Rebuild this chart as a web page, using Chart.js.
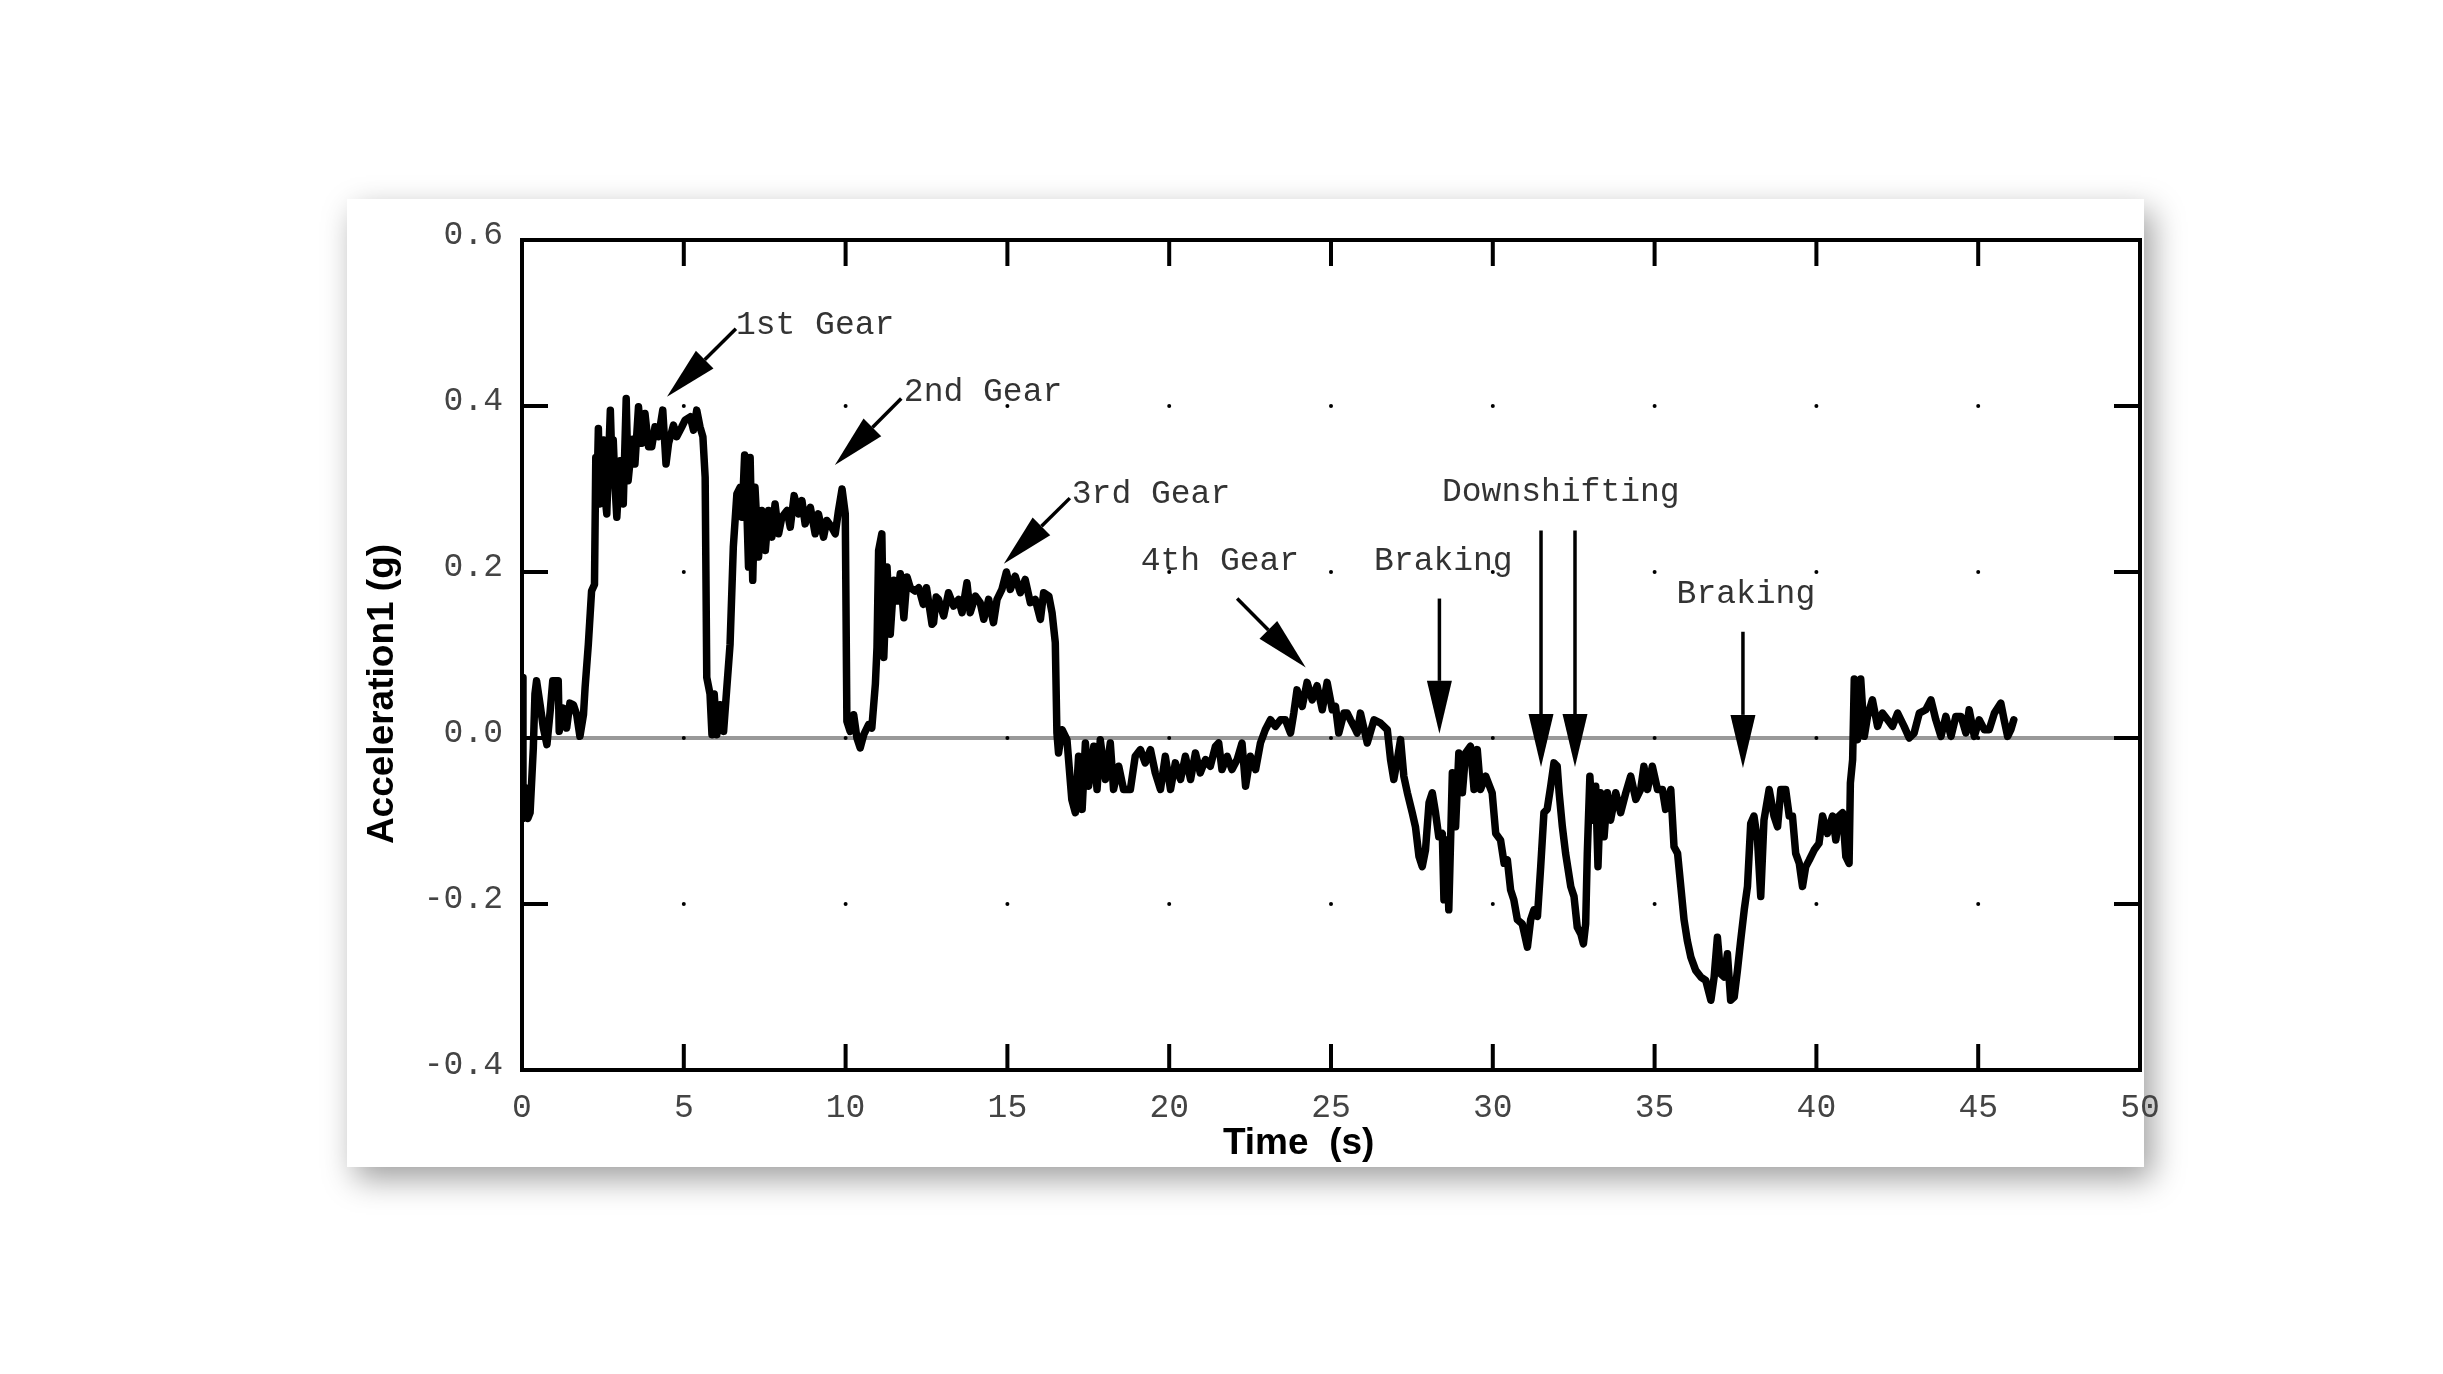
<!DOCTYPE html>
<html>
<head>
<meta charset="utf-8">
<script src="https://cdn.jsdelivr.net/npm/chart.js@4.4.1/dist/chart.umd.min.js"></script>
<style>
  html, body { margin: 0; padding: 0; background: #fff; width: 2443px; height: 1374px; overflow: hidden; }
  #card {
    position: absolute; left: 347px; top: 199px; width: 1797px; height: 968px;
    background: #fff; box-shadow: 8px 12px 30px rgba(0, 0, 0, 0.38);
  }
  #c { position: absolute; left: 0; top: 0; }
</style>
</head>
<body>
<div id="card"></div>
<canvas id="c" width="2443" height="1374"></canvas>
<script>
// time axis (s) and acceleration (g)
const timeS = [
  0.00, 0.03, 0.10, 0.18, 0.25, 0.35, 0.40, 0.45, 0.56, 0.66, 0.77, 0.87, 0.95, 1.02, 1.12, 1.15, 1.28, 1.38, 1.48, 1.59,
  1.69, 1.79, 1.90, 1.95, 2.05, 2.15, 2.24, 2.28, 2.32, 2.36, 2.41, 2.47, 2.52, 2.57, 2.62, 2.68, 2.73, 2.78, 2.82, 2.88,
  2.93, 3.03, 3.13, 3.22, 3.28, 3.34, 3.42, 3.49, 3.60, 3.70, 3.80, 3.91, 4.01, 4.11, 4.22, 4.35, 4.45, 4.53, 4.68, 4.78,
  4.94, 5.04, 5.20, 5.30, 5.40, 5.50, 5.59, 5.66, 5.71, 5.81, 5.87, 5.94, 6.02, 6.12, 6.23, 6.33, 6.43, 6.53, 6.64, 6.74,
  6.80, 6.88, 6.93, 7.00, 7.05, 7.13, 7.20, 7.31, 7.41, 7.52, 7.62, 7.72, 7.82, 7.93, 8.03, 8.19, 8.29, 8.41, 8.55, 8.65,
  8.75, 8.91, 9.06, 9.16, 9.32, 9.42, 9.57, 9.68, 9.78, 9.89, 9.99, 10.04, 10.14, 10.25, 10.35, 10.45, 10.56, 10.71, 10.81, 10.92,
  10.97, 11.02, 11.12, 11.18, 11.28, 11.38, 11.49, 11.59, 11.69, 11.80, 11.90, 12.00, 12.15, 12.26, 12.40, 12.50, 12.67, 12.72, 12.80, 12.87,
  13.03, 13.18, 13.34, 13.49, 13.60, 13.75, 13.85, 14.01, 14.16, 14.27, 14.42, 14.57, 14.68, 14.83, 14.97, 15.09, 15.24, 15.40, 15.55, 15.71,
  15.86, 16.02, 16.12, 16.28, 16.38, 16.48, 16.53, 16.58, 16.69, 16.84, 16.99, 17.10, 17.20, 17.31, 17.41, 17.51, 17.67, 17.77, 17.87, 18.03,
  18.18, 18.28, 18.44, 18.59, 18.80, 18.95, 19.11, 19.26, 19.42, 19.57, 19.73, 19.88, 20.04, 20.19, 20.35, 20.50, 20.66, 20.81, 20.96, 21.12,
  21.27, 21.43, 21.53, 21.63, 21.79, 21.94, 22.10, 22.25, 22.36, 22.51, 22.67, 22.82, 22.97, 23.13, 23.28, 23.44, 23.59, 23.75, 23.85, 23.95,
  24.11, 24.26, 24.42, 24.57, 24.73, 24.88, 25.04, 25.14, 25.24, 25.40, 25.50, 25.60, 25.71, 25.81, 25.91, 26.12, 26.33, 26.53, 26.74, 26.84,
  26.94, 27.05, 27.15, 27.25, 27.36, 27.51, 27.61, 27.72, 27.82, 27.92, 28.03, 28.13, 28.23, 28.33, 28.44, 28.49, 28.57, 28.64, 28.75, 28.85,
  28.95, 29.06, 29.16, 29.31, 29.42, 29.52, 29.62, 29.78, 29.98, 30.09, 30.24, 30.35, 30.45, 30.55, 30.65, 30.76, 30.91, 31.07, 31.17, 31.27,
  31.38, 31.48, 31.58, 31.68, 31.79, 31.89, 31.99, 32.05, 32.15, 32.25, 32.41, 32.51, 32.61, 32.72, 32.80, 32.87, 32.92, 33.00, 33.08, 33.18,
  33.25, 33.33, 33.44, 33.54, 33.64, 33.80, 33.95, 34.11, 34.26, 34.42, 34.57, 34.67, 34.78, 34.93, 35.09, 35.24, 35.34, 35.50, 35.60, 35.71,
  35.81, 35.91, 36.01, 36.12, 36.27, 36.43, 36.58, 36.74, 36.84, 36.94, 37.04, 37.15, 37.25, 37.35, 37.46, 37.56, 37.66, 37.77, 37.87, 37.97,
  38.07, 38.18, 38.28, 38.38, 38.54, 38.69, 38.80, 38.90, 39.05, 39.16, 39.26, 39.36, 39.47, 39.57, 39.67, 39.78, 39.93, 40.08, 40.19, 40.34,
  40.50, 40.60, 40.70, 40.81, 40.91, 41.01, 41.05, 41.12, 41.17, 41.27, 41.37, 41.48, 41.58, 41.73, 41.89, 42.04, 42.20, 42.35, 42.51, 42.71,
  42.87, 43.02, 43.18, 43.38, 43.54, 43.69, 43.85, 44.00, 44.16, 44.31, 44.47, 44.62, 44.72, 44.88, 45.03, 45.19, 45.34, 45.50, 45.70, 45.80,
  45.91, 46.01, 46.10
];
const accelG = [
  0.073, -0.097, -0.060, -0.097, -0.090, -0.012, 0.053, 0.069, 0.040, 0.012, -0.008, 0.032, 0.069, 0.069, 0.069, 0.008, 0.036, 0.012, 0.042, 0.040,
  0.028, 0.002, 0.028, 0.061, 0.113, 0.177, 0.185, 0.338, 0.300, 0.373, 0.282, 0.350, 0.359, 0.290, 0.270, 0.340, 0.395, 0.330, 0.359, 0.300,
  0.266, 0.334, 0.282, 0.409, 0.310, 0.334, 0.360, 0.330, 0.399, 0.355, 0.391, 0.351, 0.351, 0.375, 0.363, 0.395, 0.330, 0.355, 0.377, 0.363,
  0.375, 0.383, 0.387, 0.371, 0.395, 0.375, 0.363, 0.314, 0.073, 0.053, 0.004, 0.053, 0.004, 0.040, 0.008, 0.061, 0.113, 0.230, 0.294, 0.302,
  0.266, 0.341, 0.300, 0.206, 0.338, 0.190, 0.302, 0.218, 0.274, 0.226, 0.274, 0.242, 0.282, 0.246, 0.266, 0.274, 0.254, 0.292, 0.270, 0.286,
  0.258, 0.278, 0.246, 0.270, 0.242, 0.262, 0.254, 0.246, 0.274, 0.300, 0.270, 0.020, 0.008, 0.028, 0.000, -0.012, 0.004, 0.016, 0.012, 0.065,
  0.109, 0.226, 0.246, 0.097, 0.206, 0.125, 0.190, 0.165, 0.198, 0.145, 0.194, 0.181, 0.177, 0.181, 0.161, 0.181, 0.137, 0.139, 0.170, 0.167,
  0.147, 0.175, 0.159, 0.167, 0.151, 0.187, 0.151, 0.171, 0.163, 0.143, 0.167, 0.139, 0.167, 0.179, 0.200, 0.179, 0.195, 0.175, 0.191, 0.163,
  0.167, 0.143, 0.175, 0.171, 0.151, 0.115, 0.006, -0.018, 0.010, -0.002, -0.074, -0.090, -0.022, -0.086, -0.006, -0.058, -0.010, -0.062, -0.002, -0.050,
  -0.006, -0.062, -0.034, -0.062, -0.062, -0.022, -0.014, -0.030, -0.014, -0.042, -0.062, -0.022, -0.062, -0.030, -0.050, -0.022, -0.050, -0.018, -0.042, -0.026,
  -0.034, -0.010, -0.006, -0.038, -0.022, -0.038, -0.026, -0.006, -0.058, -0.022, -0.038, -0.006, 0.010, 0.022, 0.014, 0.022, 0.022, 0.006, 0.030, 0.058,
  0.038, 0.067, 0.046, 0.063, 0.034, 0.067, 0.034, 0.038, 0.006, 0.030, 0.030, 0.022, 0.014, 0.006, 0.030, -0.006, 0.022, 0.018, 0.010, -0.026,
  -0.050, -0.026, -0.002, -0.046, -0.066, -0.090, -0.107, -0.143, -0.155, -0.135, -0.078, -0.066, -0.090, -0.119, -0.115, -0.195, -0.123, -0.207, -0.042, -0.107,
  -0.018, -0.066, -0.018, -0.010, -0.062, -0.014, -0.062, -0.046, -0.066, -0.115, -0.123, -0.151, -0.147, -0.183, -0.195, -0.219, -0.224, -0.252, -0.219, -0.207,
  -0.215, -0.155, -0.090, -0.086, -0.058, -0.030, -0.034, -0.066, -0.107, -0.139, -0.179, -0.191, -0.228, -0.236, -0.248, -0.224, -0.139, -0.046, -0.099, -0.058,
  -0.155, -0.066, -0.119, -0.066, -0.099, -0.066, -0.090, -0.066, -0.046, -0.074, -0.062, -0.034, -0.062, -0.034, -0.062, -0.062, -0.086, -0.062, -0.131, -0.139,
  -0.179, -0.219, -0.244, -0.264, -0.280, -0.288, -0.292, -0.316, -0.288, -0.240, -0.284, -0.288, -0.260, -0.316, -0.312, -0.280, -0.244, -0.207, -0.179, -0.103,
  -0.094, -0.123, -0.191, -0.099, -0.062, -0.094, -0.107, -0.062, -0.062, -0.094, -0.094, -0.139, -0.151, -0.179, -0.155, -0.147, -0.135, -0.127, -0.094, -0.115,
  -0.094, -0.123, -0.094, -0.090, -0.143, -0.151, -0.054, -0.026, 0.071, -0.002, 0.071, 0.002, 0.026, 0.046, 0.014, 0.030, 0.022, 0.014, 0.030, 0.014,
  0.000, 0.006, 0.030, 0.034, 0.046, 0.022, 0.002, 0.026, 0.002, 0.026, 0.026, 0.006, 0.034, 0.002, 0.022, 0.010, 0.010, 0.030, 0.042, 0.022,
  0.002, 0.010, 0.022
];

const xTicks = [0, 5, 10, 15, 20, 25, 30, 35, 40, 45, 50];
const yTicks = [-0.4, -0.2, 0.0, 0.2, 0.4, 0.6];

// callouts: label anchor (data units) and arrows tail -> tip
const calloutLabels = [
  { text: '1st Gear', x: 6.61, y: 0.487 },
  { text: '2nd Gear', x: 11.80, y: 0.406 },
  { text: '3rd Gear', x: 16.99, y: 0.283 },
  { text: '4th Gear', x: 19.12, y: 0.203 },
  { text: 'Braking', x: 26.33, y: 0.203 },
  { text: 'Downshifting', x: 28.43, y: 0.285 },
  { text: 'Braking', x: 35.68, y: 0.163 }
];
const calloutArrows = [
  { from: [6.61, 0.493], to: [4.48, 0.411] },
  { from: [11.72, 0.409], to: [9.67, 0.329] },
  { from: [16.93, 0.289], to: [14.89, 0.210] },
  { from: [22.10, 0.168], to: [24.22, 0.085] },
  { from: [28.35, 0.168], to: [28.35, 0.005] },
  { from: [31.49, 0.250], to: [31.49, -0.035] },
  { from: [32.54, 0.250], to: [32.54, -0.035] },
  { from: [37.73, 0.128], to: [37.73, -0.036] }
];

const MONO = '"Liberation Mono", "Courier New", monospace';
const SANS = '"Liberation Sans", Arial, sans-serif';
const TICK_LEN = 26;

const accelPoints = timeS.map((t, i) => ({ x: t, y: accelG[i] }));
const gridDots = [];
xTicks.slice(1, -1).forEach(xv => yTicks.slice(1, -1).forEach(yv => gridDots.push({ x: xv, y: yv })));

function arrow(ctx, x1, y1, x2, y2) {
  const ang = Math.atan2(y2 - y1, x2 - x1);
  const headLen = 53, headHalf = 12.5;
  const bx = x2 - headLen * Math.cos(ang), by = y2 - headLen * Math.sin(ang);
  ctx.beginPath();
  ctx.moveTo(x1, y1);
  ctx.lineTo(bx, by);
  ctx.stroke();
  ctx.beginPath();
  ctx.moveTo(x2, y2);
  ctx.lineTo(bx + headHalf * Math.sin(ang), by - headHalf * Math.cos(ang));
  ctx.lineTo(bx - headHalf * Math.sin(ang), by + headHalf * Math.cos(ang));
  ctx.closePath();
  ctx.fill();
}

const framePlugin = {
  id: 'frame',
  afterDatasetsDraw(chart) {
    const { ctx, chartArea: a, scales: { x, y } } = chart;
    ctx.save();
    ctx.strokeStyle = '#000';
    ctx.lineWidth = 4;
    ctx.strokeRect(a.left, a.top, a.right - a.left, a.bottom - a.top);
    ctx.beginPath();
    xTicks.forEach(v => {
      const px = x.getPixelForValue(v);
      ctx.moveTo(px, a.top); ctx.lineTo(px, a.top + TICK_LEN);
      ctx.moveTo(px, a.bottom); ctx.lineTo(px, a.bottom - TICK_LEN);
    });
    yTicks.forEach(v => {
      const py = y.getPixelForValue(v);
      ctx.moveTo(a.left, py); ctx.lineTo(a.left + TICK_LEN, py);
      ctx.moveTo(a.right, py); ctx.lineTo(a.right - TICK_LEN, py);
    });
    ctx.stroke();

    // callouts
    ctx.fillStyle = '#333';
    ctx.font = '33px ' + MONO;
    ctx.textAlign = 'left';
    ctx.textBaseline = 'alphabetic';
    calloutLabels.forEach(l => ctx.fillText(l.text, x.getPixelForValue(l.x), y.getPixelForValue(l.y)));
    ctx.fillStyle = '#000';
    ctx.lineWidth = 3.5;
    calloutArrows.forEach(ar => arrow(ctx,
      x.getPixelForValue(ar.from[0]), y.getPixelForValue(ar.from[1]),
      x.getPixelForValue(ar.to[0]), y.getPixelForValue(ar.to[1])));

    // axis titles
    ctx.fillStyle = '#000';
    ctx.font = 'bold 37px ' + SANS;
    ctx.textAlign = 'center';
    ctx.fillText('Time  (s)', x.getPixelForValue(24.0), a.bottom + 84);
    ctx.save();
    ctx.translate(a.left - 129, a.top + 454);
    ctx.rotate(-Math.PI / 2);
    ctx.textBaseline = 'alphabetic';
    ctx.fillText('Acceleration1 (g)', 0, 0);
    ctx.restore();
    ctx.restore();
  }
};

new Chart(document.getElementById('c'), {
  type: 'line',
  data: {
    datasets: [
      {
        label: 'Acceleration1',
        data: accelPoints,
        borderColor: '#000',
        borderWidth: 7.5,
        borderJoinStyle: 'round',
        borderCapStyle: 'round',
        pointRadius: 0,
        tension: 0,
        order: 0
      },
      {
        label: 'grid',
        type: 'scatter',
        data: gridDots,
        pointRadius: 2,
        pointBackgroundColor: '#000',
        pointBorderWidth: 0,
        order: 1
      },
      {
        label: 'zero',
        data: [{ x: 0, y: 0 }, { x: 50, y: 0 }],
        borderColor: '#999',
        borderWidth: 4,
        pointRadius: 0,
        order: 2
      }
    ]
  },
  options: {
    responsive: false,
    animation: false,
    devicePixelRatio: 1,
    layout: { padding: { left: 0, right: 303, top: 240, bottom: 0 } },
    plugins: { legend: { display: false }, tooltip: { enabled: false } },
    scales: {
      x: {
        type: 'linear',
        min: 0,
        max: 50,
        afterBuildTicks: s => { s.ticks = xTicks.map(v => ({ value: v })); },
        afterFit: s => { s.height = 304; },
        grid: { display: false, drawTicks: false },
        border: { display: false },
        ticks: { font: { family: MONO, size: 33 }, color: '#444', padding: 18, maxRotation: 0, callback: v => String(v) }
      },
      y: {
        type: 'linear',
        min: -0.4,
        max: 0.6,
        afterBuildTicks: s => { s.ticks = yTicks.map(v => ({ value: v })); },
        afterFit: s => { s.width = 522; },
        grid: { display: false, drawTicks: false },
        border: { display: false },
        ticks: { font: { family: MONO, size: 33 }, color: '#444', padding: 19, labelOffset: -5, callback: v => (Math.abs(v) < 1e-9 ? 0 : v).toFixed(1) }
      }
    }
  },
  plugins: [framePlugin]
});
</script>
</body>
</html>
